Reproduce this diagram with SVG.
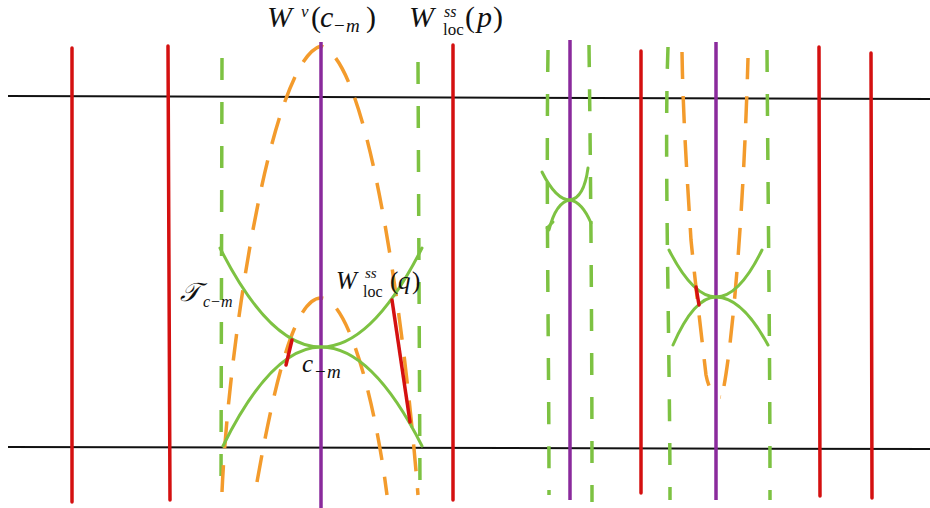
<svg xmlns="http://www.w3.org/2000/svg" width="930" height="508" viewBox="0 0 930 508">
<style>
.bk{stroke:#111;stroke-width:2;fill:none}
.rd{stroke:#d41010;stroke-width:3.5;fill:none;stroke-linecap:round}
.pu{stroke:#8a2a9c;stroke-width:3.5;fill:none}
.gd{stroke:#7dc242;stroke-width:3.5;fill:none;stroke-dasharray:22 22}
.gs{stroke:#7dc242;stroke-width:3;fill:none;stroke-linecap:round}
.od{stroke:#f39b2c;stroke-width:3.5;fill:none;stroke-dasharray:27 17}
.m{font-family:"Liberation Serif","DejaVu Serif",serif;fill:#111}
.i{font-style:italic}
</style>
<rect width="930" height="508" fill="#fff"/>
<g id="horizontals">
<path class="bk" d="M8,96 L930,99"/>
<path class="bk" d="M8,447 L930,449"/>
</g>
<g id="red-leaves">
<path class="rd" d="M72,48 L72,502"/>
<path class="rd" d="M168,46 L170,500"/>
<path class="rd" d="M453,45 L453,500"/>
<path class="rd" d="M641,51 L641,493"/>
<path class="rd" d="M819,47 L820,496"/>
<path class="rd" d="M871,53 L872,498"/>
</g>
<g id="green-dashed">
<path class="gd" d="M222,58 L221,490"/>
<path class="gd" d="M418,62 L420,490"/>
<path class="gd" d="M548,50 C546,200 549,350 549,495"/>
<path class="gd" d="M589,45 C591,200 592,350 592,502"/>
<path class="gd" d="M668,47 C664,150 670,350 670,500"/>
<path class="gd" d="M767,50 C768,200 770,350 770,500"/>
</g>
<g id="orange-dashed">
<path class="od" d="M222,492 C228,350 270,60 321,46 C370,60 405,330 418,495"/>
<path class="od" d="M257,482 C275,380 295,298 321,298 C348,298 375,400 387,495"/>
<path class="od" d="M682,52 C683,120 688,190 691,240 C696,290 702,340 706,375 Q710,396 721,397"/>
<path class="od" d="M724,386 C734,330 744,200 748,58"/>
</g>
<g id="purple-leaves">
<path class="pu" d="M321,42 L321,508"/>
<path class="pu" d="M570,40 L570,500"/>
<path class="pu" d="M716,42 L716,500"/>
</g>
<g id="green-curves">
<path class="gs" d="M220,248 Q270,347 321,347 Q372,347 422,248"/>
<path class="gs" d="M223,446 Q272,347 321,347 Q372,347 422,446"/>
<path class="gs" d="M542,172 Q556,200 570,200 Q584,198 588,168"/>
<path class="gs" d="M549,230 Q556,202 570,200 Q582,202 591,223"/>
<path class="gs" d="M547,228 L553,222"/>
<path class="gs" d="M669,250 Q693,297 716,297 Q739,297 762,250"/>
<path class="gs" d="M673,345 Q694,297 716,297 Q742,297 768,345"/>
</g>
<g id="red-segments">
<path class="rd" d="M292,340 L286,365"/>
<path class="rd" d="M392,300 L410,422"/>
<path class="rd" d="M696,287 L699,305"/>
</g>
<g id="labels">
<text class="m" font-size="30"><tspan class="i" x="267" y="27">W</tspan><tspan class="i" x="301" y="17" font-size="17">v</tspan><tspan x="311" y="27">(</tspan><tspan class="i" x="320" y="27">c</tspan><tspan x="334" y="32" font-size="19">−</tspan><tspan class="i" x="346" y="32" font-size="19">m</tspan><tspan x="366" y="27">)</tspan></text>
<text class="m" font-size="30"><tspan class="i" x="409" y="27">W</tspan><tspan class="i" x="444" y="17" font-size="16">ss</tspan><tspan x="443" y="35" font-size="17">loc</tspan><tspan x="465" y="27">(</tspan><tspan class="i" x="477" y="27">p</tspan><tspan x="493" y="27">)</tspan></text>
<text class="m" font-size="25"><tspan class="i" x="336" y="289">W</tspan><tspan class="i" x="365" y="278" font-size="15">ss</tspan><tspan x="363" y="297" font-size="16">loc</tspan><tspan x="390" y="289">(</tspan><tspan class="i" x="398" y="289">q</tspan><tspan x="412" y="289">)</tspan></text>
<text class="m" font-size="26"><tspan class="i" x="180" y="301">𝒯</tspan><tspan class="i" x="203" y="307" font-size="16">c</tspan><tspan x="211" y="307" font-size="16">−</tspan><tspan class="i" x="221" y="307" font-size="16">m</tspan></text>
<text class="m" font-size="25"><tspan class="i" x="302" y="372">c</tspan><tspan x="315" y="378" font-size="19">−</tspan><tspan class="i" x="327" y="378" font-size="19">m</tspan></text>
</g>
</svg>
